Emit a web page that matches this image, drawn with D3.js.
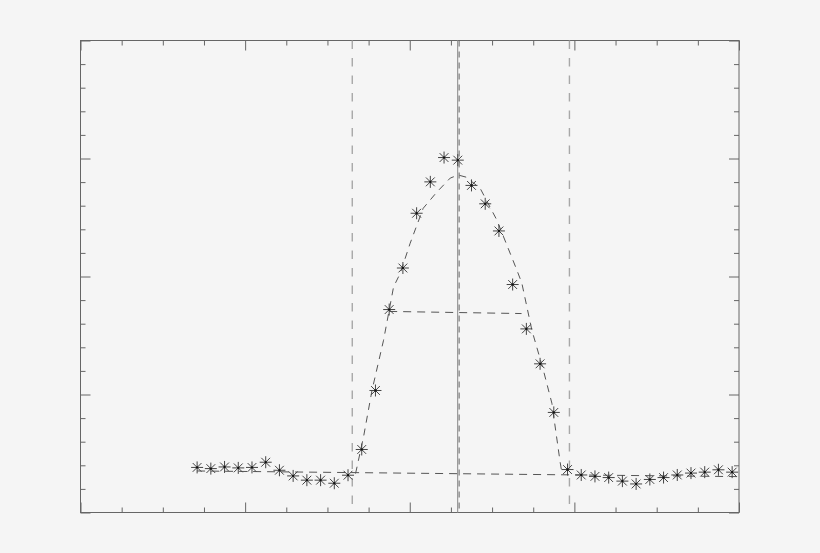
<!DOCTYPE html>
<html>
<head>
<meta charset="utf-8">
<script src="https://cdn.jsdelivr.net/npm/d3@7"></script>
<style>
  html, body { margin: 0; padding: 0; background: #f5f5f5; }
  svg { display: block; }
</style>
</head>
<body>
<div id="chart"></div>
<script>
// measured points (asterisks)
const obsX = [8.5, 9.5, 10.5, 11.5, 12.5, 13.5, 14.5, 15.5, 16.5, 17.5,
              18.5, 19.5, 20.5, 21.5, 22.5, 23.5, 24.5, 25.5, 26.5, 27.5,
              28.5, 29.5, 30.5, 31.5, 32.5, 33.5, 34.5, 35.5, 36.5, 37.5,
              38.5, 39.5, 40.5, 41.5, 42.5, 43.5, 44.5, 45.5, 46.5, 47.5];
const obsY = [1.91, 1.86, 1.93, 1.89, 1.91, 2.13, 1.79, 1.55, 1.37, 1.37,
              1.24, 1.58, 2.67, 5.17, 8.60, 10.36, 12.68, 14.01, 15.04, 14.93,
              13.86, 13.08, 11.93, 9.66, 7.78, 6.30, 4.24, 1.82, 1.59, 1.53,
              1.48, 1.33, 1.21, 1.40, 1.48, 1.59, 1.67, 1.71, 1.81, 1.71];

// fitted profile (dashed curve)
const fitX = [20.05, 20.63, 21.25, 22.09, 22.82, 23.31, 24.03, 24.98, 25.98, 26.95,
              27.53, 28.11, 29.13, 30.35, 31.81, 32.17, 32.90, 33.74, 34.36, 34.96, 35.08];
const fitY = [1.65, 3.20, 5.18, 7.30, 9.56, 10.14, 11.41, 12.89, 13.58, 14.17,
              14.30, 14.21, 13.74, 12.39, 10.27, 9.72, 7.73, 6.03, 4.63, 2.14, 1.72];

// background level line and half-maximum line
const baseX = [8.5, 48];
const baseY = [1.76, 1.52];
const halfX = [22.5, 32.15];
const halfY = [8.52, 8.43];

// vertical markers
const limitX = [19.81, 35.64];   // dashed
const centerX = 27.49;            // solid
const peakX = 27.6;               // dashed, next to centre

let config = { svg: {}, margin: {}, plot: {} };
config.svg.width = 820;
config.svg.height = 553;
config.margin.top = 40.5;
config.margin.left = 80.5;
config.margin.right = 80.5;
config.margin.bottom = 40.5;
config.plot.width = config.svg.width - config.margin.left - config.margin.right - 0.5;
config.plot.height = config.svg.height - config.margin.top - config.margin.bottom;

const svg = d3.select('#chart').append('svg')
  .attr('width', config.svg.width)
  .attr('height', config.svg.height);

svg.append('rect')
  .attr('width', config.svg.width)
  .attr('height', config.svg.height)
  .attr('fill', '#f5f5f5');

const g = svg.append('g')
  .attr('transform', 'translate(' + config.margin.left + ',' + config.margin.top + ')');

const x = d3.scaleLinear().domain([0, 48]).range([0, config.plot.width]);
const y = d3.scaleLinear().domain([0, 20]).range([config.plot.height, 0]);

const xMajor = d3.range(0, 49, 12);
const xMinor = d3.range(0, 49, 3).filter(d => d % 12 !== 0);
const yMajor = d3.range(0, 21, 5);
const yMinor = d3.range(0, 21, 1).filter(d => d % 5 !== 0);

function tickAxis(axisFn, scale, values, size) {
  return axisFn(scale).tickValues(values).tickSize(-size).tickSizeOuter(0).tickFormat('');
}

const axisColor = '#666';
const axes = [
  [d3.axisBottom, x, 'translate(0,' + config.plot.height + ')'],
  [d3.axisTop, x, 'translate(0,0)'],
  [d3.axisLeft, y, 'translate(0,0)'],
  [d3.axisRight, y, 'translate(' + config.plot.width + ',0)']
];
axes.forEach(function (a) {
  const isX = a[1] === x;
  [[isX ? xMajor : yMajor, 10], [isX ? xMinor : yMinor, 5]].forEach(function (t) {
    const ax = g.append('g')
      .attr('transform', a[2])
      .call(tickAxis(a[0], a[1], t[0], t[1]));
    ax.select('.domain').remove();
    ax.selectAll('line').attr('stroke', axisColor).attr('stroke-width', 1);
  });
});

g.append('rect')
  .attr('width', config.plot.width)
  .attr('height', config.plot.height)
  .attr('fill', 'none')
  .attr('stroke', axisColor)
  .attr('stroke-width', 1);

// vertical lines
g.selectAll('.limit')
  .data(limitX)
  .enter().append('line')
  .attr('class', 'limit')
  .attr('x1', d => x(d)).attr('x2', d => x(d))
  .attr('y1', 0).attr('y2', config.plot.height)
  .attr('stroke', '#a8a8a8')
  .attr('stroke-width', 1.4)
  .attr('stroke-dasharray', '8.5,9');

g.append('line')
  .attr('x1', x(centerX)).attr('x2', x(centerX))
  .attr('y1', 0).attr('y2', config.plot.height)
  .attr('stroke', '#9a9a9a')
  .attr('stroke-width', 1.2);

g.append('line')
  .attr('x1', x(peakX)).attr('x2', x(peakX))
  .attr('y1', 0).attr('y2', config.plot.height)
  .attr('stroke', '#666')
  .attr('stroke-width', 1)
  .attr('stroke-dasharray', '6,5');

const line = d3.line().x(d => x(d[0])).y(d => y(d[1]));

g.append('path')
  .datum(d3.zip(baseX, baseY))
  .attr('d', line)
  .attr('fill', 'none')
  .attr('stroke', '#555')
  .attr('stroke-width', 1)
  .attr('stroke-dasharray', '8,6');

g.append('path')
  .datum(d3.zip(halfX, halfY))
  .attr('d', line)
  .attr('fill', 'none')
  .attr('stroke', '#555')
  .attr('stroke-width', 1)
  .attr('stroke-dasharray', '8,6');

g.append('path')
  .datum(d3.zip(fitX, fitY))
  .attr('d', line)
  .attr('fill', 'none')
  .attr('stroke', '#555')
  .attr('stroke-width', 1)
  .attr('stroke-dasharray', '7,6');

// asterisk markers
const r = 6, rd = 4.4;
const star = 'M' + (-r) + ',0L' + r + ',0M0,' + (-r) + 'L0,' + r +
  'M' + (-rd) + ',' + (-rd) + 'L' + rd + ',' + rd +
  'M' + (-rd) + ',' + rd + 'L' + rd + ',' + (-rd);

const pts = g.selectAll('.pt')
  .data(d3.zip(obsX, obsY))
  .enter().append('g')
  .attr('class', 'pt')
  .attr('transform', d => 'translate(' + x(d[0]) + ',' + y(d[1]) + ')');
pts.append('path')
  .attr('d', star)
  .attr('fill', 'none')
  .attr('stroke', '#444')
  .attr('stroke-width', 1);
pts.append('rect')
  .attr('x', -1).attr('y', -1)
  .attr('width', 2).attr('height', 2)
  .attr('fill', '#111');
</script>
</body>
</html>
